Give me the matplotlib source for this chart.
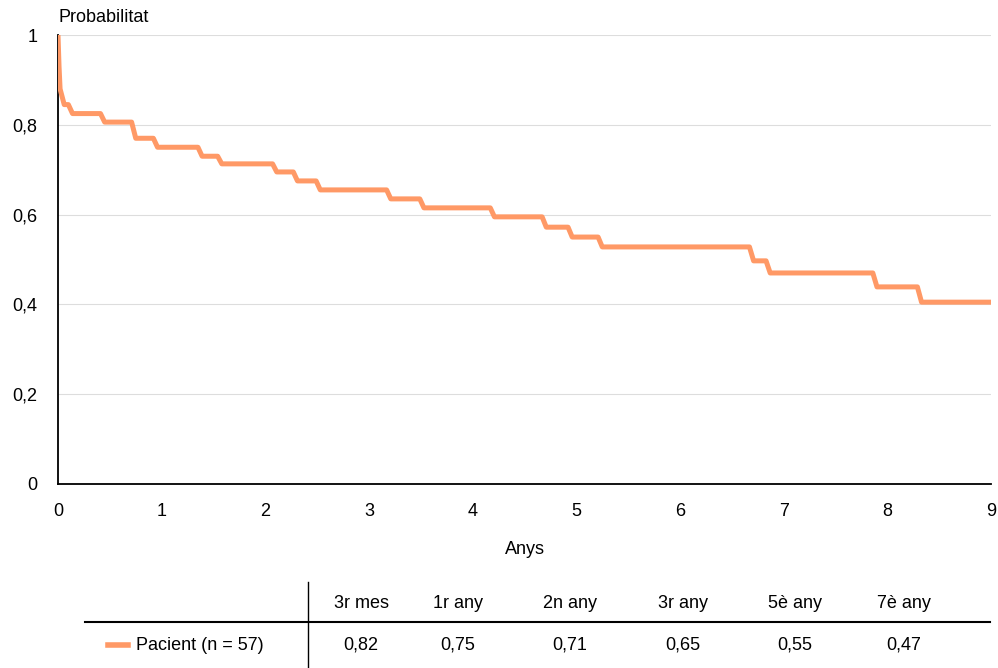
import matplotlib
matplotlib.use("Agg")
import matplotlib.pyplot as plt
from matplotlib.lines import Line2D
import numpy as np

# Data
event_times = [0.0, 0.01, 0.02, 0.10, 0.41, 0.71, 0.92, 1.35, 1.54, 2.07, 2.27, 2.49,
               3.17, 3.49, 4.17, 4.67, 4.92, 5.21, 6.67, 6.83, 7.86, 8.29]
survival = [0.93, 0.88, 0.845, 0.825, 0.806, 0.77, 0.75, 0.73, 0.713, 0.695, 0.675, 0.655,
            0.635, 0.615, 0.595, 0.572, 0.55, 0.528, 0.497, 0.47, 0.439, 0.405]
t_end = 9.0
x_ticks = list(range(0, 10))
y_ticks = [0, 0.2, 0.4, 0.6, 0.8, 1.0]
y_ticklabels = ["0", "0,2", "0,4", "0,6", "0,8", "1"]
table_headers = ["3r mes", "1r any", "2n any", "3r any", "5è any", "7è any"]
table_values = ["0,82", "0,75", "0,71", "0,65", "0,55", "0,47"]
series_label = "Pacient (n = 57)"
color = "#FF9966"

plt.rcParams['font.family'] = ['Liberation Sans', 'DejaVu Sans']
FS = 13

fig = plt.figure(figsize=(9.98, 6.68), dpi=100)
ax = fig.add_axes([58/998, 1-484/668, (991-58)/998, (484-35)/668])

# build step path with slightly slanted risers
d = 0.04
xs, ys = [0.0], [1.0]
prev = 1.0
for i, (t, s) in enumerate(zip(event_times, survival)):
    nxt = event_times[i + 1] if i + 1 < len(event_times) else t_end
    xs += [t, min(t + d, nxt)]
    ys += [prev, s]
    prev = s
xs.append(t_end)
ys.append(prev)
ax.plot(xs, ys, color=color, lw=3.6, solid_joinstyle='round', solid_capstyle='butt', zorder=3)

ax.set_xlim(0, 9)
ax.set_ylim(0, 1)
ax.set_xticks(x_ticks)
ax.set_xticklabels([str(v) for v in x_ticks])
ax.set_yticks(y_ticks)
ax.set_yticklabels(y_ticklabels)
ax.tick_params(length=0, labelsize=FS, pad=14)
ax.tick_params(axis='y', pad=15)
ax.grid(axis='y', color='#dddddd', lw=0.8)
ax.set_axisbelow(True)
for side in ['top', 'right']:
    ax.spines[side].set_visible(False)
for side in ['left', 'bottom']:
    ax.spines[side].set_linewidth(1.3)
    ax.spines[side].set_color('black')

fig.text(58/998, 1-17/668, "Probabilitat", fontsize=FS, ha='left', va='center')
fig.text(525/998, 1-550/668, "Anys", fontsize=FS, ha='center', va='center')

# table
fig.add_artist(Line2D([308/998, 308/998], [1-582/668, 0], color='black', lw=1.0))
fig.add_artist(Line2D([85/998, 990/998], [1-622/668, 1-622/668], color='black', lw=1.5))
col_x = [361, 458, 570, 683, 795, 904]
for cx, h, v in zip(col_x, table_headers, table_values):
    fig.text(cx/998, 1-604/668, h, fontsize=FS, ha='center', va='center')
    fig.text(cx/998, 1-645/668, v, fontsize=FS, ha='center', va='center')
fig.add_artist(Line2D([108/998, 128/998], [1-645/668, 1-645/668], color=color, lw=4))
fig.text(136/998, 1-645/668, series_label, fontsize=FS, ha='left', va='center')

fig.savefig("out.png", dpi=100)
